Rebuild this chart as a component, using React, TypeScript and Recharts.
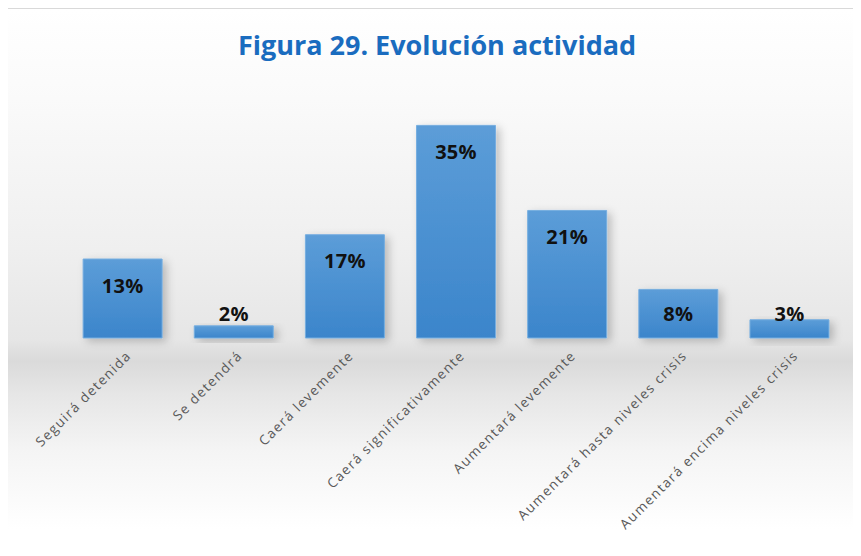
import { Bar, BarChart, LabelList, XAxis, YAxis } from "recharts";

const categories = [
  "Seguirá detenida",
  "Se detendrá",
  "Caerá levemente",
  "Caerá significativamente",
  "Aumentará levemente",
  "Aumentará hasta niveles crisis",
  "Aumentará encima niveles crisis",
];
const percentages = [13, 2, 17, 35, 21, 8, 3];

const data = categories.map((name, i) => ({ name, value: percentages[i] }));

const AngledTick = (props: any) => {
  const { x, y, payload } = props;
  return (
    <g transform={`translate(${x + 6},${y + 7})`}>
      <text
        textAnchor="end"
        dominantBaseline="central"
        transform="rotate(-45)"
        fill="#595959"
        fontSize={13.5}
        letterSpacing={1.4}
        fontFamily="'Open Sans', sans-serif"
      >
        {payload.value}
      </text>
    </g>
  );
};

// inside the top of the bar, pushed above it when the bar is short
const BarLabel = (props: any) => {
  const { x, y, width, height, value } = props;
  const cy = Math.min(y + 26, y + height - 25);
  return (
    <text
      x={x + width / 2}
      y={cy}
      textAnchor="middle"
      dominantBaseline="central"
      fill="#111"
      fontSize={20}
      fontWeight={700}
      letterSpacing={0.3}
      fontFamily="'Open Sans', sans-serif"
    >
      {value}%
    </text>
  );
};

export default function App() {
  return (
    <div style={{ position: "relative", margin: -8, width: 861, height: 556, overflow: "hidden", background: "#fff" }}>
      <div
        style={{
          position: "absolute",
          left: 5,
          top: 7,
          width: 900,
          height: 600,
          border: "2px solid #d9d9d9",
          background:
            "linear-gradient(to bottom, #ffffff 0px, #fafafa 90px, #efefef 240px, #e6e6e6 330px, #dadada 352px, #e6e6e6 385px, #f4f4f4 440px, #ffffff 520px)",
        }}
      />
      <div
        style={{
          position: "absolute",
          left: 0,
          top: 25,
          width: 874,
          textAlign: "center",
          color: "#1A6CBF",
          fontFamily: "'Open Sans', sans-serif",
          fontWeight: 700,
          fontSize: 27,
          lineHeight: "40px",
        }}
      >
        Figura 29. Evolución actividad
      </div>
      <div style={{ position: "absolute", left: 0, top: 0 }}>
        <BarChart
          width={861}
          height={556}
          data={data}
          margin={{ top: 95, right: 16, left: 67, bottom: 8 }}
          barCategoryGap="14.5%"
        >
          <defs>
            <linearGradient id="barGrad" x1="0" y1="0" x2="0" y2="1">
              <stop offset="0%" stopColor="#5C9DD8" />
              <stop offset="100%" stopColor="#3B85CB" />
            </linearGradient>
            <filter id="barShadow" x="-20%" y="-20%" width="160%" height="160%">
              <feDropShadow dx="4" dy="3" stdDeviation="4" floodColor="#000" floodOpacity="0.22" />
            </filter>
          </defs>
          <XAxis
            dataKey="name"
            axisLine={false}
            tickLine={false}
            interval={0}
            height={210}
            tick={<AngledTick />}
          />
          <YAxis hide domain={[0, 40]} />
          <Bar
            dataKey="value"
            fill="url(#barGrad)"
            stroke="#76AEE0"
            strokeWidth={1}
            filter="url(#barShadow)"
            isAnimationActive={false}
          >
            <LabelList dataKey="value" content={<BarLabel />} />
          </Bar>
        </BarChart>
      </div>
    </div>
  );
}
